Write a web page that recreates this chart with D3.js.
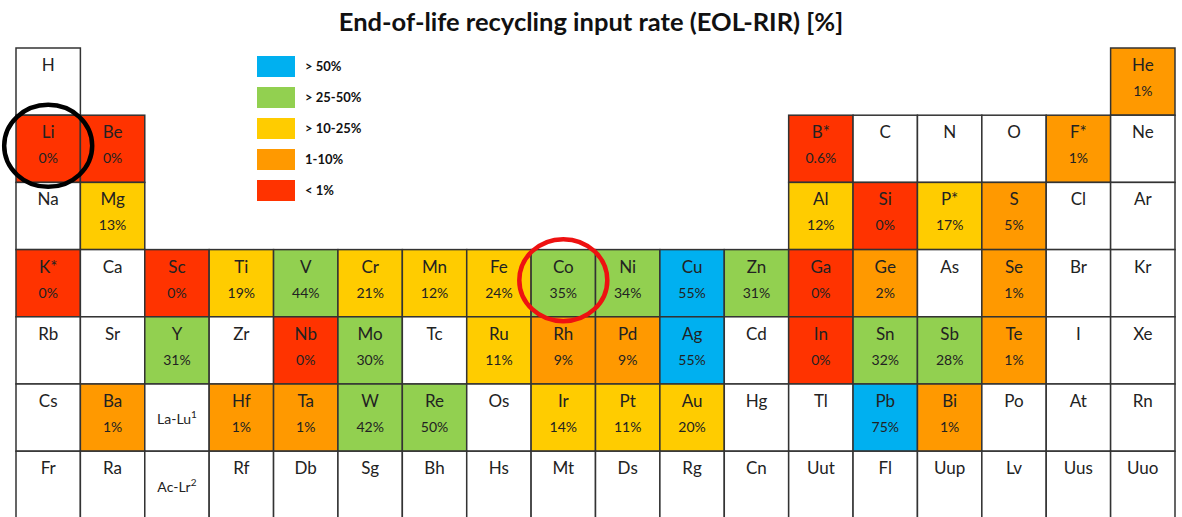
<!DOCTYPE html>
<html>
<head>
<meta charset="utf-8">
<script src="https://cdn.jsdelivr.net/npm/d3@7"></script>
<style>
  body { margin: 0; background: #fff; }
  svg { font-family: Lato, "Open Sans", sans-serif; }
</style>
</head>
<body>
<div id="chart"></div>
<script>
"use strict"

// element symbols per period, 18 groups each (null = no cell)
const period1 = ["H", null, null, null, null, null, null, null, null, null, null, null, null, null, null, null, null, "He"];
const period2 = ["Li", "Be", null, null, null, null, null, null, null, null, null, null, "B*", "C", "N", "O", "F*", "Ne"];
const period3 = ["Na", "Mg", null, null, null, null, null, null, null, null, null, null, "Al", "Si", "P*", "S", "Cl", "Ar"];
const period4 = ["K*", "Ca", "Sc", "Ti", "V", "Cr", "Mn", "Fe", "Co", "Ni", "Cu", "Zn", "Ga", "Ge", "As", "Se", "Br", "Kr"];
const period5 = ["Rb", "Sr", "Y", "Zr", "Nb", "Mo", "Tc", "Ru", "Rh", "Pd", "Ag", "Cd", "In", "Sn", "Sb", "Te", "I", "Xe"];
const period6 = ["Cs", "Ba", "La-Lu|1", "Hf", "Ta", "W", "Re", "Os", "Ir", "Pt", "Au", "Hg", "Tl", "Pb", "Bi", "Po", "At", "Rn"];
const period7 = ["Fr", "Ra", "Ac-Lr|2", "Rf", "Db", "Sg", "Bh", "Hs", "Mt", "Ds", "Rg", "Cn", "Uut", "Fl", "Uup", "Lv", "Uus", "Uuo"];

// EOL-RIR in %, same order (null = no data)
const rates1 = [null, null, null, null, null, null, null, null, null, null, null, null, null, null, null, null, null, 1];
const rates2 = [0, 0, null, null, null, null, null, null, null, null, null, null, 0.6, null, null, null, 1, null];
const rates3 = [null, 13, null, null, null, null, null, null, null, null, null, null, 12, 0, 17, 5, null, null];
const rates4 = [0, null, 0, 19, 44, 21, 12, 24, 35, 34, 55, 31, 0, 2, null, 1, null, null];
const rates5 = [null, null, 31, null, 0, 30, null, 11, 9, 9, 55, null, 0, 32, 28, 1, null, null];
const rates6 = [null, 1, null, 1, 1, 42, 50, null, 14, 11, 20, null, null, 75, 1, null, null, null];
const rates7 = [null, null, null, null, null, null, null, null, null, null, null, null, null, null, null, null, null, null];

const legendLabels = ["> 50%", "> 25-50%", "> 10-25%", "1-10%", "< 1%"];
const legendColors = ["#00b0f0", "#92d050", "#ffcc00", "#ff9900", "#ff3300"];

// highlighted elements
const highlights = [{ symbol: "Li", color: "#000" }, { symbol: "Co", color: "#ee1111" }];

const width = 1182, height = 517;

const periods = [period1, period2, period3, period4, period5, period6, period7];
const rates = [rates1, rates2, rates3, rates4, rates5, rates6, rates7];

let cells = [];
periods.forEach((row, r) => {
  row.forEach((sym, c) => {
    if (sym !== null) cells.push({ symbol: sym, period: r + 1, group: c + 1, rate: rates[r][c] });
  });
});

const x = d3.scaleBand().domain(d3.range(1, 19)).range([16, 1175]);
const y = d3.scaleBand().domain(d3.range(1, 8)).range([48, 48 + 7 * 67.2]);

const color = d3.scaleThreshold()
  .domain([1, 10.5, 25.5, 50.5])
  .range(legendColors.slice().reverse());

const svg = d3.select("#chart").append("svg")
  .attr("width", width)
  .attr("height", height);

svg.append("text")
  .attr("x", 591)
  .attr("y", 31)
  .attr("text-anchor", "middle")
  .style("font-size", "25.5px")
  .style("font-weight", "bold")
  .attr("fill", "#111")
  .text("End-of-life recycling input rate (EOL-RIR) [%]");

const cell = svg.selectAll("g.cell")
  .data(cells)
  .enter()
  .append("g")
    .attr("class", "cell")
    .attr("transform", d => `translate(${x(d.group)},${y(d.period)})`);

cell.append("rect")
  .attr("width", x.bandwidth())
  .attr("height", y.bandwidth())
  .attr("fill", d => d.rate === null ? "#fff" : color(d.rate))
  .attr("stroke", "#333")
  .attr("stroke-width", 1.5);

// plain symbols
cell.filter(d => !d.symbol.includes("|"))
  .append("text")
    .attr("x", x.bandwidth() / 2)
    .attr("y", 23)
    .attr("text-anchor", "middle")
    .style("font-size", "17px")
    .attr("fill", "#222")
    .text(d => d.symbol);

// lanthanide / actinide placeholders with footnote mark
let series = cell.filter(d => d.symbol.includes("|"))
  .append("text")
    .attr("x", x.bandwidth() / 2)
    .attr("y", d => d.period === 6 ? 40 : 41)
    .attr("text-anchor", "middle")
    .style("font-size", "14px")
    .attr("fill", "#222");
series.append("tspan").text(d => d.symbol.split("|")[0]);
series.append("tspan")
  .attr("dy", -6)
  .style("font-size", "10px")
  .text(d => d.symbol.split("|")[1]);

cell.filter(d => d.rate !== null)
  .append("text")
    .attr("x", x.bandwidth() / 2)
    .attr("y", 48)
    .attr("text-anchor", "middle")
    .style("font-size", "14px")
    .attr("fill", "#222")
    .text(d => d.rate + "%");

// legend
const legendY = d3.scalePoint().domain(legendLabels).range([56, 180]);
const legend = svg.selectAll("g.legend")
  .data(legendLabels)
  .enter()
  .append("g")
    .attr("class", "legend")
    .attr("transform", d => `translate(257,${legendY(d)})`);
legend.append("rect")
  .attr("width", 38)
  .attr("height", 21)
  .attr("fill", (d, i) => legendColors[i]);
legend.append("text")
  .attr("x", 48)
  .attr("y", 15)
  .style("font-size", "13px")
  .style("font-weight", "bold")
  .attr("fill", "#111")
  .text(d => d);

// circles around highlighted elements
svg.selectAll("ellipse")
  .data(highlights)
  .enter()
  .append("ellipse")
    .attr("cx", d => { let c = cells.find(e => e.symbol === d.symbol); return x(c.group) + x.bandwidth() / 2; })
    .attr("cy", d => { let c = cells.find(e => e.symbol === d.symbol); return y(c.period) + y.bandwidth() / 2 - 3; })
    .attr("rx", 44)
    .attr("ry", 41)
    .attr("fill", "none")
    .attr("stroke", d => d.color)
    .attr("stroke-width", 4.5);
</script>
</body>
</html>
